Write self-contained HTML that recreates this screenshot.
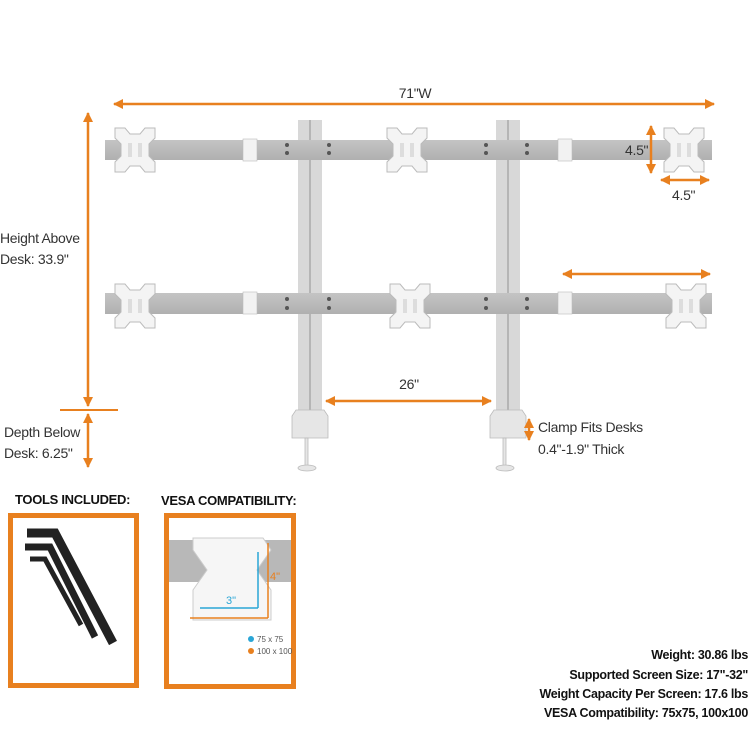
<!DOCTYPE html>
<html><head><style>
body{margin:0;background:#fff;}
svg{display:block;font-family:"Liberation Sans",sans-serif;}
.t{font-size:14px;fill:#333;letter-spacing:-0.3px;}
.b{font-size:13px;fill:#111;font-weight:bold;letter-spacing:-0.3px;}
</style></head><body>
<svg width="750" height="750" viewBox="0 0 750 750" xmlns="http://www.w3.org/2000/svg">
<defs>
<marker id="a" viewBox="0 0 10 10" refX="9" refY="5" markerWidth="4" markerHeight="4" orient="auto-start-reverse"><path d="M0,0L10,5L0,10z" fill="#e8801f"/></marker>
<linearGradient id="bar" x1="0" y1="0" x2="0" y2="1"><stop offset="0" stop-color="#c4c4c4"/><stop offset="1" stop-color="#b0b0b0"/></linearGradient>
<g id="plate"><path d="M-20,-22h10l5,6h10l5,-6h10v10l-6,6v12l6,6v10h-10l-5,-6h-10l-5,6h-10v-10l6,-6v-12l-6,-6z" fill="#f4f4f4" stroke="#bbb"/><rect x="-7" y="-7" width="4" height="14" fill="#ddd"/><rect x="3" y="-7" width="4" height="14" fill="#ddd"/></g>
<g id="jt"><rect x="-7" y="-11" width="14" height="22" fill="#f2f2f2" stroke="#bbb" stroke-width="0.6"/></g>
</defs>
<rect x="298" y="120" width="24" height="292" fill="#d8d8d8"/><rect x="309" y="120" width="2" height="292" fill="#b5b5b5"/>
<rect x="496" y="120" width="24" height="292" fill="#d8d8d8"/><rect x="507" y="120" width="2" height="292" fill="#b5b5b5"/>
<rect x="105" y="140" width="607" height="20" fill="url(#bar)"/>
<rect x="105" y="293" width="607" height="21" fill="url(#bar)"/>
<use href="#jt" x="250" y="150"/><use href="#jt" x="565" y="150"/><use href="#jt" x="250" y="303"/><use href="#jt" x="565" y="303"/>
<g fill="#555"><circle cx="287" cy="145" r="2"/><circle cx="287" cy="153" r="2"/><circle cx="329" cy="145" r="2"/><circle cx="329" cy="153" r="2"/><circle cx="486" cy="145" r="2"/><circle cx="486" cy="153" r="2"/><circle cx="527" cy="145" r="2"/><circle cx="527" cy="153" r="2"/>
<circle cx="287" cy="299" r="2"/><circle cx="287" cy="308" r="2"/><circle cx="329" cy="299" r="2"/><circle cx="329" cy="308" r="2"/><circle cx="486" cy="299" r="2"/><circle cx="486" cy="308" r="2"/><circle cx="527" cy="299" r="2"/><circle cx="527" cy="308" r="2"/></g>
<use href="#plate" x="135" y="150"/><use href="#plate" x="407" y="150"/><use href="#plate" x="684" y="150"/>
<use href="#plate" x="135" y="306"/><use href="#plate" x="410" y="306"/><use href="#plate" x="686" y="306"/>
<g fill="#e6e6e6" stroke="#bbb" stroke-width="0.8">
<path d="M296,410h28l4,6v22h-36v-22z"/><rect x="305" y="438" width="3" height="28"/><ellipse cx="307" cy="468" rx="9" ry="3"/>
<path d="M494,410h28l4,6v22h-36v-22z"/><rect x="503" y="438" width="3" height="28"/><ellipse cx="505" cy="468" rx="9" ry="3"/>
</g>
<g stroke="#e8801f" stroke-width="2.5" fill="none">
<line x1="114" y1="104" x2="714" y2="104" marker-start="url(#a)" marker-end="url(#a)"/>
<line x1="88" y1="113" x2="88" y2="406" marker-start="url(#a)" marker-end="url(#a)"/>
<line x1="88" y1="414" x2="88" y2="467" marker-start="url(#a)" marker-end="url(#a)"/>
<line x1="651" y1="126" x2="651" y2="173" marker-start="url(#a)" marker-end="url(#a)"/>
<line x1="661" y1="180" x2="709" y2="180" marker-start="url(#a)" marker-end="url(#a)"/>
<line x1="563" y1="274" x2="710" y2="274" marker-start="url(#a)" marker-end="url(#a)"/>
<line x1="326" y1="401" x2="491" y2="401" marker-start="url(#a)" marker-end="url(#a)"/>
<line x1="529" y1="419" x2="529" y2="440" marker-start="url(#a)" marker-end="url(#a)"/>
</g>
<line x1="60" y1="410" x2="118" y2="410" stroke="#e8801f" stroke-width="2"/>
<text class="t" x="415" y="98" text-anchor="middle">71"W</text>
<text class="t" x="0" y="243">Height Above</text><text class="t" x="0" y="264">Desk: 33.9"</text>
<text class="t" x="4" y="437">Depth Below</text><text class="t" x="4" y="458">Desk: 6.25"</text>
<text class="t" x="625" y="155">4.5"</text><text class="t" x="672" y="200">4.5"</text>
<text class="t" x="409" y="389" text-anchor="middle">26"</text>
<text class="t" x="538" y="432">Clamp Fits Desks</text><text class="t" x="538" y="454">0.4"-1.9" Thick</text>
<text class="b" x="15" y="504">TOOLS INCLUDED:</text>
<text class="b" x="161" y="505">VESA COMPATIBILITY:</text>
<rect x="10.5" y="515.5" width="126" height="170" fill="none" stroke="#e8801f" stroke-width="5"/>
<g stroke="#222" fill="none">
<path d="M27,533h28l58,110" stroke-width="9"/>
<path d="M25,547h25l45,90" stroke-width="7"/>
<path d="M30,559h15l36,66" stroke-width="5"/>
</g>
<rect x="166.5" y="515.5" width="127" height="171" fill="none" stroke="#e8801f" stroke-width="5"/>
<rect x="169" y="540" width="122" height="42" fill="#b8b8b8"/>
<path d="M193,538h70l8,12l-14,20l14,20v30h-78v-30l14,-20l-14,-20z" fill="#f6f6f6" stroke="#ccc"/>
<g stroke="#2aa6d6" stroke-width="1.5"><line x1="258" y1="552" x2="258" y2="608"/><line x1="200" y1="608" x2="258" y2="608"/></g>
<g stroke="#e8801f" stroke-width="1.5"><line x1="268" y1="543" x2="268" y2="618"/><line x1="190" y1="618" x2="268" y2="618"/></g>
<text x="226" y="604" font-size="11" fill="#2aa6d6">3"</text>
<text x="270" y="580" font-size="11" fill="#e8801f">4"</text>
<circle cx="251" cy="639" r="3" fill="#2aa6d6"/><text x="257" y="642" font-size="8" fill="#555">75 x 75</text>
<circle cx="251" cy="651" r="3" fill="#e8801f"/><text x="257" y="654" font-size="8" fill="#555">100 x 100</text>
<g text-anchor="end">
<text class="b" x="748" y="659" style="font-size:12.5px">Weight: 30.86 lbs</text>
<text class="b" x="748" y="679" style="font-size:12.5px">Supported Screen Size: 17"-32"</text>
<text class="b" x="748" y="698" style="font-size:12.5px">Weight Capacity Per Screen: 17.6 lbs</text>
<text class="b" x="748" y="717" style="font-size:12.5px">VESA Compatibility: 75x75, 100x100</text>
</g>
</svg>
</body></html>
